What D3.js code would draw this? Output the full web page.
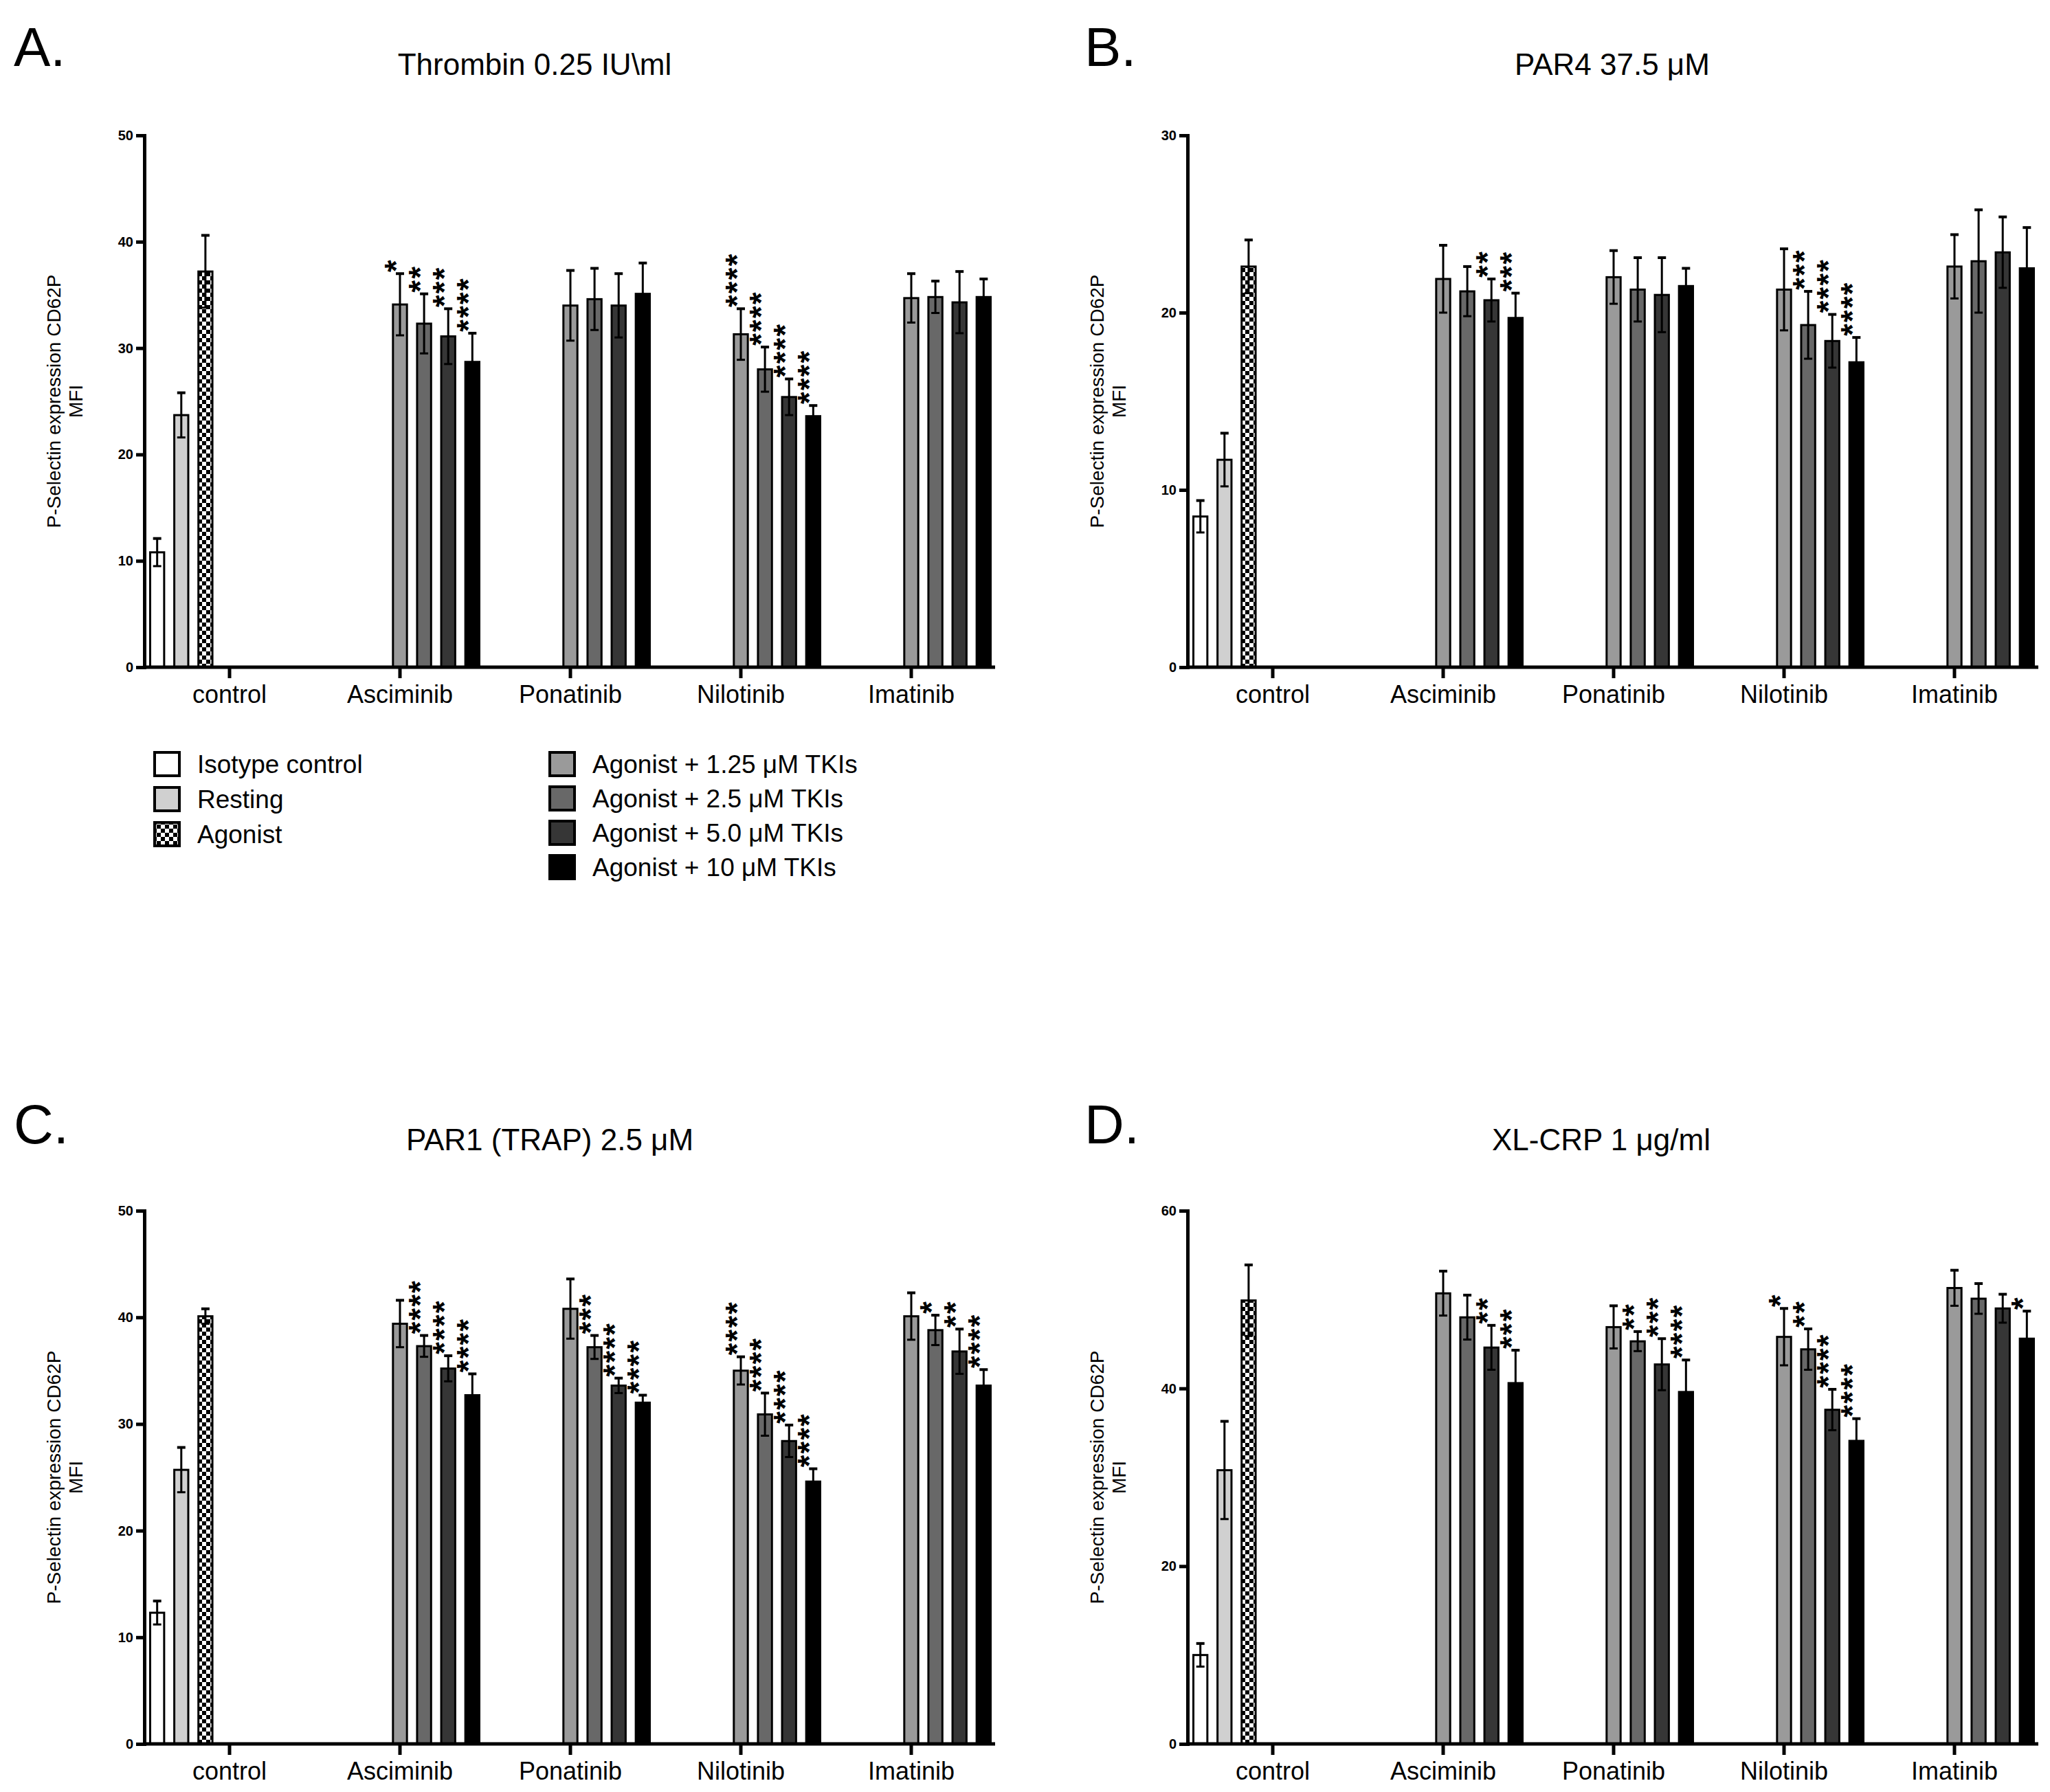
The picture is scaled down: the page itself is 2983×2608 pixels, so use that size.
<!DOCTYPE html>
<html>
<head>
<meta charset="utf-8">
<script src="https://cdn.jsdelivr.net/npm/d3@7"></script>
<style>
  body { margin: 0; background: #fff; }
  text { font-family: "Liberation Sans", Arial, sans-serif; }
</style>
</head>
<body>
<div id="chart"></div>
<script>
const W = 2983, H = 2608

const categories = ["control", "Asciminib", "Ponatinib", "Nilotinib", "Imatinib"]
const seriesNames = ["Isotype control", "Resting", "Agonist",
  "Agonist + 1.25 \u03bcM TKIs", "Agonist + 2.5 \u03bcM TKIs", "Agonist + 5.0 \u03bcM TKIs", "Agonist + 10  \u03bcM TKIs"]
const fills = ["#ffffff", "#d0d0d0", "url(#checker)", "#9a9a9a", "#686868", "#363636", "#000000"]

// means [control: iso, resting, agonist] then drugs [1.25, 2.5, 5, 10]
const meanA = [[10.8, 23.7, 37.2], [34.1, 32.3, 31.1, 28.7], [34.0, 34.6, 34.0, 35.1], [31.3, 28.0, 25.4, 23.6], [34.7, 34.8, 34.3, 34.8]]
const errA  = [[12.1, 25.8, 40.6], [37.0, 35.1, 33.7, 31.4], [37.3, 37.5, 37.0, 38.0], [33.7, 30.1, 27.1, 24.6], [37.0, 36.3, 37.2, 36.5]]
const starA = [[], ["*", "**", "***", "****"], ["", "", "", ""], ["****", "****", "****", "****"], ["", "", "", ""]]

const meanB = [[8.5, 11.7, 22.6], [21.9, 21.2, 20.7, 19.7], [22.0, 21.3, 21.0, 21.5], [21.3, 19.3, 18.4, 17.2], [22.6, 22.9, 23.4, 22.5]]
const errB  = [[9.4, 13.2, 24.1], [23.8, 22.6, 21.9, 21.1], [23.5, 23.1, 23.1, 22.5], [23.6, 21.2, 19.9, 18.6], [24.4, 25.8, 25.4, 24.8]]
const starB = [[], ["", "", "**", "***"], ["", "", "", ""], ["", "***", "****", "****"], ["", "", "", ""]]

const meanC = [[12.3, 25.7, 40.1], [39.4, 37.3, 35.2, 32.7], [40.8, 37.2, 33.6, 32.0], [35.0, 30.9, 28.4, 24.6], [40.1, 38.8, 36.8, 33.6]]
const errC  = [[13.4, 27.8, 40.8], [41.6, 38.3, 36.4, 34.7], [43.6, 38.3, 34.3, 32.7], [36.3, 32.9, 29.9, 25.8], [42.3, 40.2, 38.9, 35.1]]
const starC = [[], ["", "****", "****", "****"], ["", "***", "****", "****"], ["****", "****", "****", "****"], ["", "*", "**", "****"]]

const meanD = [[10.0, 30.8, 49.9], [50.7, 48.0, 44.6, 40.6], [46.9, 45.3, 42.7, 39.6], [45.8, 44.4, 37.6, 34.1], [51.3, 50.1, 49.0, 45.6]]
const errD  = [[11.3, 36.3, 53.9], [53.2, 50.5, 47.1, 44.3], [49.3, 46.4, 45.6, 43.2], [49.0, 46.7, 39.9, 36.6], [53.3, 51.8, 50.6, 48.7]]
const starD = [[], ["", "", "**", "***"], ["", "**", "***", "****"], ["*", "**", "****", "****"], ["", "", "", "*"]]

const panels = [
  { tag: "A.", title: "Thrombin 0.25 IU\\ml", mean: meanA, err: errA, star: starA, yMax: 50, yTicks: [0, 10, 20, 30, 40, 50], x0: 210, top: 197, bottom: 971, tagX: 20, tagY: 96, titleX: 778 },
  { tag: "B.", title: "PAR4 37.5 \u03bcM", mean: meanB, err: errB, star: starB, yMax: 30, yTicks: [0, 10, 20, 30], x0: 1728, top: 197, bottom: 971, tagX: 1578, tagY: 96, titleX: 2346 },
  { tag: "C.", title: "PAR1 (TRAP) 2.5 \u03bcM", mean: meanC, err: errC, star: starC, yMax: 50, yTicks: [0, 10, 20, 30, 40, 50], x0: 210, top: 1762, bottom: 2538, tagX: 20, tagY: 1664, titleX: 800 },
  { tag: "D.", title: "XL-CRP 1 \u03bcg/ml", mean: meanD, err: errD, star: starD, yMax: 60, yTicks: [0, 20, 40, 60], x0: 1728, top: 1762, bottom: 2538, tagX: 1578, tagY: 1664, titleX: 2330 }
]

const svg = d3.select("#chart").append("svg").attr("width", W).attr("height", H)

const defs = svg.append("defs")
const pat = defs.append("pattern").attr("id", "checker").attr("patternUnits", "userSpaceOnUse")
  .attr("width", 12).attr("height", 12)
pat.append("rect").attr("width", 12).attr("height", 12).attr("fill", "#fff")
pat.append("rect").attr("width", 6).attr("height", 6).attr("fill", "#000")
pat.append("rect").attr("x", 6).attr("y", 6).attr("width", 6).attr("height", 6).attr("fill", "#000")

panels.forEach(p => {
  const g = svg.append("g")
  const x = d3.scaleBand().domain(categories).range([p.x0, p.x0 + 1240]).padding(0)
  const inner = d3.scaleBand().domain(d3.range(7)).range([-115.5, 115.5]).paddingInner(0.42)
  const y = d3.scaleLinear().domain([0, p.yMax]).range([p.bottom, p.top])

  g.append("text").attr("x", p.tagX).attr("y", p.tagY).attr("font-size", 80).text(p.tag)
  g.append("text").attr("x", p.titleX).attr("y", p.top - 88).attr("text-anchor", "middle")
    .attr("font-size", 44).text(p.title)

  // bar records
  const recs = []
  p.mean.forEach((vals, ci) => {
    vals.forEach((v, k) => {
      const s = ci === 0 ? k : k + 3
      recs.push({ cat: categories[ci], s, v, e: p.err[ci][k], star: ci === 0 ? "" : p.star[ci][k] })
    })
  })
  const cx = d => x(d.cat) + x.bandwidth() / 2 + inner(d.s) + inner.bandwidth() / 2

  g.selectAll(".bar").data(recs).enter().append("rect")
    .attr("x", d => cx(d) - inner.bandwidth() / 2)
    .attr("y", d => y(d.v))
    .attr("width", inner.bandwidth())
    .attr("height", d => y(0) - y(d.v))
    .attr("fill", d => fills[d.s])
    .attr("stroke", "#000").attr("stroke-width", 3)

  const eb = g.selectAll(".eb").data(recs).enter().append("g")
  eb.append("line").attr("x1", cx).attr("x2", cx)
    .attr("y1", d => y(Math.max(0, 2 * d.v - d.e))).attr("y2", d => y(d.e))
    .attr("stroke", "#000").attr("stroke-width", 3)
  eb.append("line").attr("x1", d => cx(d) - 6).attr("x2", d => cx(d) + 6)
    .attr("y1", d => y(d.e)).attr("y2", d => y(d.e)).attr("stroke", "#000").attr("stroke-width", 4)
  eb.append("line").attr("x1", d => cx(d) - 6).attr("x2", d => cx(d) + 6)
    .attr("y1", d => y(2 * d.v - d.e)).attr("y2", d => y(2 * d.v - d.e)).attr("stroke", "#000").attr("stroke-width", 3)

  // significance stars, stacked vertically as rotated text
  g.selectAll(".star").data(recs.filter(d => d.star)).enter().append("text")
    .attr("transform", d => `translate(${cx(d) + 10},${y(d.e) - 2}) rotate(-90)`)
    .attr("font-size", 46).attr("font-weight", "bold").attr("letter-spacing", 2)
    .text(d => d.star)

  // axes
  const ya = g.append("g").attr("transform", `translate(${p.x0},0)`)
    .call(d3.axisLeft(y).tickValues(p.yTicks).tickSize(12).tickPadding(4))
  ya.selectAll("text").attr("font-size", 20).attr("font-weight", "bold")
  const xa = g.append("g").attr("transform", `translate(0,${p.bottom})`)
    .call(d3.axisBottom(x).tickSize(16).tickPadding(10).tickSizeOuter(0))
  xa.selectAll("text").attr("font-size", 36).attr("fill", "#000")
  g.selectAll(".domain, .tick line").attr("stroke", "#000").attr("stroke-width", 5)
  xa.select(".domain").attr("d", `M${p.x0},0H${p.x0 + 1238}`)

  const my = (p.top + p.bottom) / 2
  const yt = g.append("text").attr("transform", `translate(${p.x0 - 122},${my}) rotate(-90)`)
    .attr("text-anchor", "middle").attr("font-size", 28)
  yt.append("tspan").attr("x", 0).attr("dy", 0).text("P-Selectin expression CD62P")
  yt.append("tspan").attr("x", 0).attr("dy", 32).text("MFI")
})

// legend under panel A
const legend = svg.append("g")
seriesNames.forEach((name, i) => {
  const left = i < 3
  const lx = left ? 225 : 800
  const ly = left ? 1112 + i * 51 : 1112 + (i - 3) * 50
  legend.append("rect").attr("x", lx).attr("y", ly - 17).attr("width", 36).attr("height", 34)
    .attr("fill", fills[i]).attr("stroke", "#000").attr("stroke-width", 4)
  legend.append("text").attr("x", lx + 62).attr("y", ly + 13).attr("font-size", 37).text(name)
})
</script>
</body>
</html>
